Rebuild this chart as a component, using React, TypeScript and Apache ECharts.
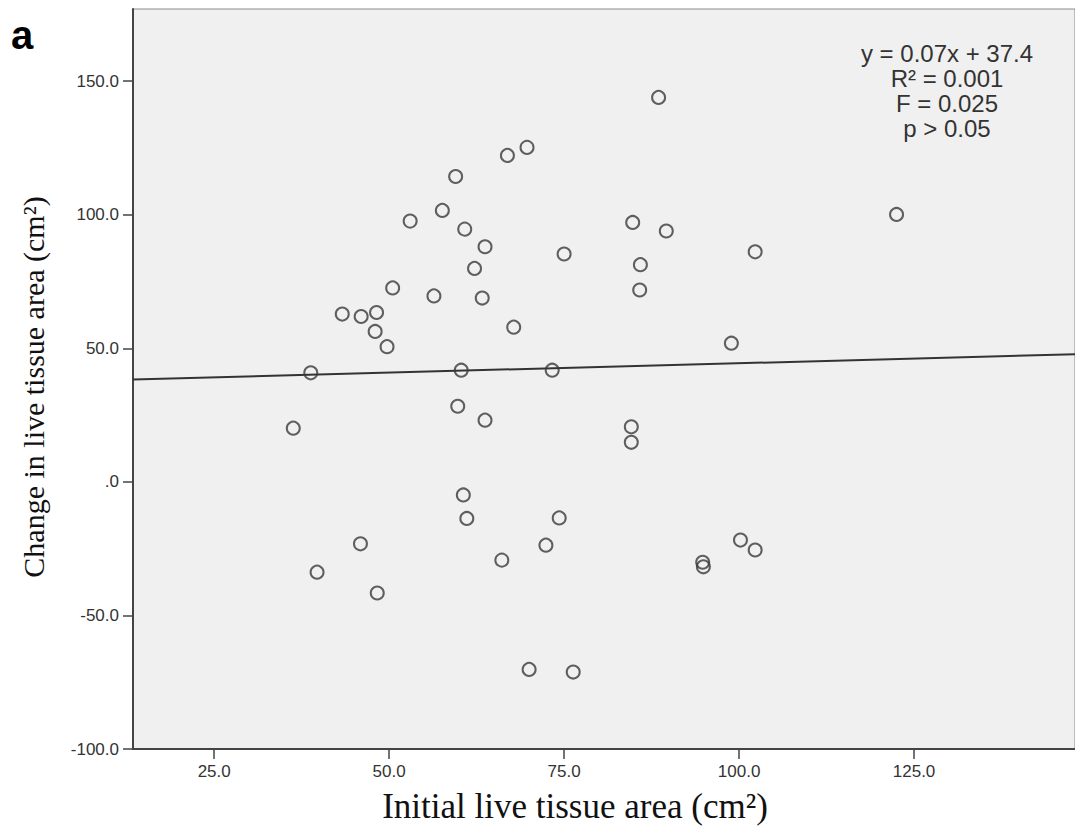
import React, { useEffect, useRef } from "react";
import * as echarts from "echarts";

// Data
const initialArea: number[] = [
  88.5, 66.9, 69.7, 59.5, 53.0, 57.6, 60.8, 63.7, 75.0, 62.2,
  50.5, 56.4, 63.3, 43.3, 46.0, 48.2, 48.0, 67.8, 49.7, 38.8,
  60.3, 73.3, 59.8, 63.7, 36.3, 60.6, 61.1, 74.3, 72.4, 66.1,
  45.9, 39.7, 48.3, 70.0, 76.3, 84.8, 89.6, 85.9, 85.8, 102.3,
  122.5, 98.9, 84.6, 84.6, 100.2, 102.3, 94.8, 94.9,
];
const changeArea: number[] = [
  143.9, 122.2, 125.2, 114.3, 97.6, 101.6, 94.6, 88.0, 85.3, 79.9,
  72.6, 69.6, 68.8, 62.8, 61.9, 63.4, 56.3, 57.9, 50.6, 40.8,
  41.8, 41.8, 28.3, 23.1, 20.1, -4.9, -13.7, -13.5, -23.7, -29.3,
  -23.2, -33.8, -41.6, -70.2, -71.2, 97.1, 93.9, 81.3, 71.8, 86.1,
  100.1, 51.9, 20.6, 14.8, -21.8, -25.5, -30.1, -31.8,
];
const fitSlope = 0.07;
const fitIntercept = 37.4;
const xTicks: number[] = [25, 50, 75, 100, 125];
const yTicks: number[] = [-100, -50, 0, 50, 100, 150];
const xMin = 13.4;
const xMax = 148;
const yMin = -100;
const yMax = 177;
const statLines: string[] = ["y = 0.07x + 37.4", "R\u00b2 = 0.001", "F = 0.025", "p > 0.05"];
const xTitle = "Initial live tissue area (cm\u00b2)";
const yTitle = "Change in live tissue area (cm\u00b2)";
const panelLabel = "a";

export default function App() {
  const ref = useRef<HTMLDivElement>(null);

  useEffect(() => {
    if (!ref.current) return;
    const chart = echarts.init(ref.current, undefined, { renderer: "svg" });
    const points = initialArea.map((x, i) => [x, changeArea[i]]);
    const fitLine = [
      [xMin, fitSlope * xMin + fitIntercept],
      [xMax, fitSlope * xMax + fitIntercept],
    ];
    const sans = "'Liberation Sans', Arial, sans-serif";
    const serif = "'Liberation Serif', 'Times New Roman', serif";

    chart.setOption({
      animation: false,
      backgroundColor: "#ffffff",
      grid: {
        left: 133,
        top: 9,
        width: 953,
        height: 740,
        show: true,
        backgroundColor: "#f0f0f0",
        borderColor: "#8a8a8a",
        borderWidth: 1,
      },
      xAxis: {
        type: "value",
        min: xMin,
        max: xMax,
        splitLine: { show: false },
        axisLine: { show: true, onZero: false, lineStyle: { color: "#444", width: 2 } },
        axisTick: {
          show: true,
          customValues: xTicks,
          length: 10,
          lineStyle: { color: "#444", width: 1.5 },
        },
        axisLabel: {
          customValues: xTicks,
          formatter: (v: number) => v.toFixed(1),
          fontSize: 17,
          color: "#333",
          fontFamily: sans,
          margin: 14,
        },
      },
      yAxis: {
        type: "value",
        min: yMin,
        max: yMax,
        splitLine: { show: false },
        axisLine: { show: true, onZero: false, lineStyle: { color: "#444", width: 2 } },
        axisTick: {
          show: true,
          customValues: yTicks,
          length: 10,
          lineStyle: { color: "#444", width: 1.5 },
        },
        axisLabel: {
          customValues: yTicks,
          formatter: (v: number) => (v === 0 ? ".0" : v.toFixed(1)),
          fontSize: 17,
          color: "#333",
          fontFamily: sans,
          margin: 14,
        },
      },
      series: [
        {
          type: "line",
          data: fitLine,
          showSymbol: false,
          symbol: "none",
          lineStyle: { color: "#333", width: 2 },
          z: 1,
          silent: true,
        },
        {
          type: "scatter",
          data: points,
          symbol: "circle",
          symbolSize: 13,
          itemStyle: {
            color: "rgba(0,0,0,0)",
            borderColor: "#3a3a3a",
            borderWidth: 2,
          },
          z: 3,
        },
      ],
      graphic: [
        {
          type: "text",
          x: 11,
          y: 35,
          style: {
            text: panelLabel,
            font: `bold 40px ${sans}`,
            fill: "#000",
            align: "left",
            verticalAlign: "middle",
            textAlign: "left",
            textVerticalAlign: "middle",
          },
        },
        {
          type: "text",
          x: 947,
          y: 91,
          z: 10,
          style: {
            text: statLines.join("\n"),
            font: `24px ${sans}`,
            lineHeight: 25,
            fill: "#333",
            align: "center",
            verticalAlign: "middle",
            textAlign: "center",
            textVerticalAlign: "middle",
          },
        },
        {
          type: "text",
          x: 575,
          y: 806,
          style: {
            text: xTitle,
            font: `35px ${serif}`,
            fill: "#111",
            align: "center",
            verticalAlign: "middle",
            textAlign: "center",
            textVerticalAlign: "middle",
          },
        },
        {
          type: "text",
          x: 33,
          y: 387,
          rotation: Math.PI / 2,
          style: {
            text: yTitle,
            font: `30px ${serif}`,
            fill: "#111",
            align: "center",
            verticalAlign: "middle",
            textAlign: "center",
            textVerticalAlign: "middle",
          },
        },
      ],
    });
    return () => chart.dispose();
  }, []);

  return (
    <div
      ref={ref}
      style={{ position: "absolute", left: 0, top: 0, width: 1075, height: 829 }}
    />
  );
}
